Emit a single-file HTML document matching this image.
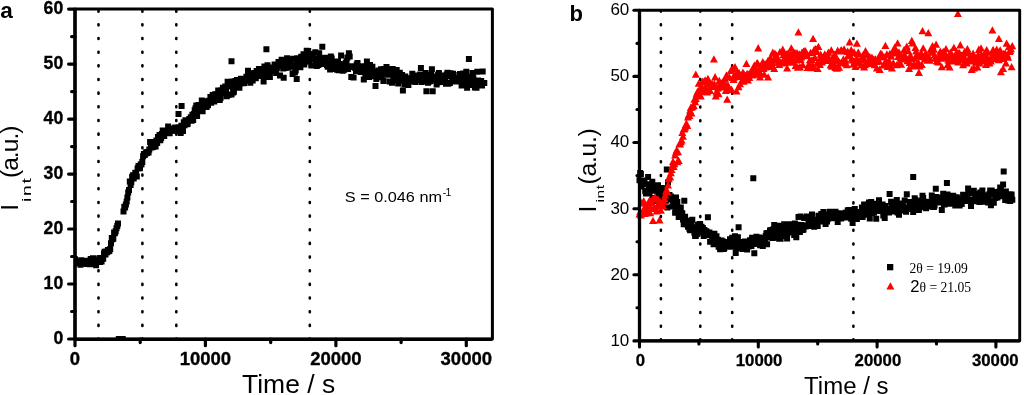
<!DOCTYPE html><html><head><meta charset="utf-8"><style>html,body{margin:0;padding:0;background:#fff}svg{display:block;will-change:transform}text{font-family:"Liberation Sans",sans-serif;fill:#000}.b{font-weight:bold}.s{font-family:"Liberation Serif",serif}</style></head><body>
<svg width="1024" height="395" viewBox="0 0 1024 395">
<rect width="1024" height="395" fill="#fff"/>
<line x1="98.5" y1="10.7" x2="98.5" y2="339.0" stroke="#000" stroke-width="2.6" stroke-linecap="round" stroke-dasharray="1 12.66"/>
<line x1="142.4" y1="10.7" x2="142.4" y2="339.0" stroke="#000" stroke-width="2.6" stroke-linecap="round" stroke-dasharray="1 12.66"/>
<line x1="176.3" y1="10.7" x2="176.3" y2="339.0" stroke="#000" stroke-width="2.6" stroke-linecap="round" stroke-dasharray="1 12.66"/>
<line x1="309.8" y1="10.7" x2="309.8" y2="339.0" stroke="#000" stroke-width="2.6" stroke-linecap="round" stroke-dasharray="1 12.66"/>
<clipPath id="ca"><rect x="75.0" y="9.1" width="417.4" height="329.9"/></clipPath>
<path clip-path="url(#ca)" d="M72.0 256.2h6v6h-6zM72.8 259.8h6v6h-6zM73.6 258.9h6v6h-6zM74.3 258.3h6v6h-6zM75.1 260.2h6v6h-6zM75.9 258.9h6v6h-6zM76.7 258.9h6v6h-6zM77.5 261.8h6v6h-6zM78.3 257.2h6v6h-6zM79.0 257.9h6v6h-6zM79.8 259.9h6v6h-6zM80.6 259.1h6v6h-6zM81.4 258.0h6v6h-6zM82.2 259.2h6v6h-6zM83.0 259.2h6v6h-6zM83.7 261.1h6v6h-6zM84.5 257.8h6v6h-6zM85.3 258.5h6v6h-6zM86.1 258.2h6v6h-6zM86.9 261.2h6v6h-6zM87.7 255.9h6v6h-6zM88.4 258.4h6v6h-6zM89.2 259.2h6v6h-6zM90.0 255.2h6v6h-6zM90.8 258.6h6v6h-6zM91.6 260.9h6v6h-6zM92.3 259.2h6v6h-6zM93.1 262.3h6v6h-6zM93.9 256.7h6v6h-6zM94.7 258.8h6v6h-6zM95.5 258.7h6v6h-6zM96.3 255.2h6v6h-6zM97.0 259.1h6v6h-6zM97.8 254.9h6v6h-6zM98.6 258.6h6v6h-6zM99.4 255.7h6v6h-6zM100.2 255.7h6v6h-6zM101.0 250.3h6v6h-6zM101.7 248.8h6v6h-6zM102.5 251.4h6v6h-6zM103.3 248.5h6v6h-6zM104.1 249.2h6v6h-6zM104.9 247.0h6v6h-6zM105.7 248.2h6v6h-6zM106.4 247.8h6v6h-6zM107.2 245.9h6v6h-6zM108.0 240.3h6v6h-6zM108.8 235.1h6v6h-6zM109.6 236.3h6v6h-6zM110.3 235.6h6v6h-6zM111.1 229.5h6v6h-6zM111.9 230.2h6v6h-6zM112.7 228.3h6v6h-6zM113.5 225.2h6v6h-6zM114.3 223.0h6v6h-6zM115.0 220.5h6v6h-6zM115.8 336.0h6v6h-6zM116.6 336.0h6v6h-6zM117.4 336.0h6v6h-6zM118.2 336.0h6v6h-6zM119.0 336.0h6v6h-6zM119.7 336.0h6v6h-6zM120.5 208.4h6v6h-6zM121.3 203.8h6v6h-6zM122.1 204.5h6v6h-6zM122.9 201.6h6v6h-6zM123.7 198.4h6v6h-6zM124.4 194.4h6v6h-6zM125.2 189.4h6v6h-6zM126.0 187.1h6v6h-6zM126.8 178.6h6v6h-6zM127.6 182.0h6v6h-6zM128.3 179.3h6v6h-6zM129.1 174.1h6v6h-6zM129.9 172.3h6v6h-6zM130.7 175.5h6v6h-6zM131.5 172.4h6v6h-6zM132.3 169.7h6v6h-6zM133.0 170.7h6v6h-6zM133.8 173.6h6v6h-6zM134.6 165.4h6v6h-6zM135.4 163.2h6v6h-6zM136.2 163.0h6v6h-6zM137.0 165.2h6v6h-6zM137.7 161.6h6v6h-6zM138.5 161.3h6v6h-6zM139.3 159.0h6v6h-6zM140.1 153.2h6v6h-6zM140.9 151.1h6v6h-6zM141.7 152.0h6v6h-6zM142.4 150.8h6v6h-6zM143.2 149.3h6v6h-6zM144.0 150.0h6v6h-6zM144.8 149.0h6v6h-6zM145.6 149.4h6v6h-6zM146.3 146.6h6v6h-6zM147.1 139.0h6v6h-6zM147.9 141.9h6v6h-6zM148.7 144.4h6v6h-6zM149.5 143.9h6v6h-6zM150.3 144.1h6v6h-6zM151.0 139.8h6v6h-6zM151.8 139.0h6v6h-6zM152.6 143.5h6v6h-6zM153.4 137.6h6v6h-6zM154.2 139.9h6v6h-6zM155.0 133.9h6v6h-6zM155.7 136.8h6v6h-6zM156.5 131.9h6v6h-6zM157.3 137.3h6v6h-6zM158.1 135.1h6v6h-6zM158.9 131.1h6v6h-6zM159.7 127.4h6v6h-6zM160.4 128.4h6v6h-6zM161.2 133.1h6v6h-6zM162.0 128.9h6v6h-6zM162.8 129.0h6v6h-6zM163.6 130.0h6v6h-6zM164.3 130.3h6v6h-6zM165.1 123.4h6v6h-6zM165.9 129.1h6v6h-6zM166.7 130.3h6v6h-6zM167.5 126.1h6v6h-6zM168.3 127.4h6v6h-6zM169.0 127.8h6v6h-6zM169.8 125.4h6v6h-6zM170.6 126.0h6v6h-6zM171.4 126.3h6v6h-6zM172.2 124.5h6v6h-6zM173.0 126.2h6v6h-6zM173.7 128.1h6v6h-6zM174.5 126.9h6v6h-6zM175.3 126.8h6v6h-6zM176.1 124.3h6v6h-6zM176.9 128.0h6v6h-6zM177.7 130.0h6v6h-6zM178.4 122.7h6v6h-6zM179.2 126.7h6v6h-6zM180.0 128.0h6v6h-6zM180.8 119.3h6v6h-6zM181.6 122.2h6v6h-6zM182.4 117.2h6v6h-6zM183.1 119.9h6v6h-6zM183.9 121.2h6v6h-6zM184.7 120.8h6v6h-6zM185.5 117.5h6v6h-6zM186.3 115.9h6v6h-6zM187.0 117.0h6v6h-6zM187.8 114.3h6v6h-6zM188.6 117.8h6v6h-6zM189.4 111.7h6v6h-6zM190.2 117.1h6v6h-6zM191.0 111.0h6v6h-6zM191.7 107.2h6v6h-6zM192.5 105.2h6v6h-6zM193.3 102.4h6v6h-6zM194.1 112.9h6v6h-6zM194.9 104.3h6v6h-6zM195.7 102.1h6v6h-6zM196.4 102.2h6v6h-6zM197.2 108.2h6v6h-6zM198.0 103.0h6v6h-6zM198.8 97.5h6v6h-6zM199.6 108.3h6v6h-6zM200.4 101.0h6v6h-6zM201.1 98.3h6v6h-6zM201.9 103.9h6v6h-6zM202.7 98.9h6v6h-6zM203.5 104.0h6v6h-6zM204.3 102.5h6v6h-6zM205.0 101.9h6v6h-6zM205.8 97.8h6v6h-6zM206.6 98.1h6v6h-6zM207.4 94.0h6v6h-6zM208.2 99.8h6v6h-6zM209.0 96.4h6v6h-6zM209.7 92.1h6v6h-6zM210.5 92.8h6v6h-6zM211.3 98.6h6v6h-6zM212.1 91.2h6v6h-6zM212.9 94.6h6v6h-6zM213.7 91.2h6v6h-6zM214.4 91.0h6v6h-6zM215.2 87.4h6v6h-6zM216.0 90.7h6v6h-6zM216.8 96.9h6v6h-6zM217.6 94.8h6v6h-6zM218.4 87.2h6v6h-6zM219.1 90.1h6v6h-6zM219.9 84.8h6v6h-6zM220.7 87.3h6v6h-6zM221.5 90.3h6v6h-6zM222.3 83.6h6v6h-6zM223.0 89.5h6v6h-6zM223.8 93.3h6v6h-6zM224.6 78.8h6v6h-6zM225.4 91.9h6v6h-6zM226.2 82.8h6v6h-6zM227.0 81.3h6v6h-6zM227.7 83.6h6v6h-6zM228.5 91.5h6v6h-6zM229.3 78.5h6v6h-6zM230.1 89.6h6v6h-6zM230.9 88.7h6v6h-6zM231.7 83.7h6v6h-6zM232.4 77.9h6v6h-6zM233.2 79.7h6v6h-6zM234.0 76.9h6v6h-6zM234.8 82.3h6v6h-6zM235.6 80.6h6v6h-6zM236.4 84.7h6v6h-6zM237.1 80.4h6v6h-6zM237.9 75.8h6v6h-6zM238.7 79.7h6v6h-6zM239.5 75.7h6v6h-6zM240.3 80.3h6v6h-6zM241.0 80.1h6v6h-6zM241.8 76.9h6v6h-6zM242.6 77.7h6v6h-6zM243.4 73.7h6v6h-6zM244.2 75.3h6v6h-6zM245.0 67.7h6v6h-6zM245.7 76.6h6v6h-6zM246.5 76.3h6v6h-6zM247.3 79.8h6v6h-6zM248.1 74.5h6v6h-6zM248.9 71.1h6v6h-6zM249.7 77.5h6v6h-6zM250.4 73.9h6v6h-6zM251.2 70.0h6v6h-6zM252.0 73.7h6v6h-6zM252.8 75.2h6v6h-6zM253.6 67.9h6v6h-6zM254.4 71.7h6v6h-6zM255.1 70.0h6v6h-6zM255.9 66.1h6v6h-6zM256.7 65.9h6v6h-6zM257.5 72.6h6v6h-6zM258.3 73.1h6v6h-6zM259.0 69.0h6v6h-6zM259.8 70.7h6v6h-6zM260.6 78.6h6v6h-6zM261.4 63.5h6v6h-6zM262.2 69.0h6v6h-6zM263.0 65.4h6v6h-6zM263.7 74.0h6v6h-6zM264.5 62.3h6v6h-6zM265.3 70.8h6v6h-6zM266.1 68.3h6v6h-6zM266.9 74.1h6v6h-6zM267.7 68.1h6v6h-6zM268.4 68.1h6v6h-6zM269.2 67.6h6v6h-6zM270.0 64.4h6v6h-6zM270.8 66.0h6v6h-6zM271.6 61.4h6v6h-6zM272.4 67.9h6v6h-6zM273.1 70.1h6v6h-6zM273.9 65.3h6v6h-6zM274.7 62.0h6v6h-6zM275.5 58.9h6v6h-6zM276.3 60.6h6v6h-6zM277.0 72.4h6v6h-6zM277.8 62.1h6v6h-6zM278.6 56.8h6v6h-6zM279.4 63.1h6v6h-6zM280.2 65.5h6v6h-6zM281.0 61.4h6v6h-6zM281.7 65.0h6v6h-6zM282.5 59.4h6v6h-6zM283.3 62.2h6v6h-6zM284.1 55.3h6v6h-6zM284.9 59.3h6v6h-6zM285.7 64.7h6v6h-6zM286.4 58.2h6v6h-6zM287.2 56.4h6v6h-6zM288.0 63.2h6v6h-6zM288.8 62.3h6v6h-6zM289.6 70.9h6v6h-6zM290.4 55.7h6v6h-6zM291.1 62.5h6v6h-6zM291.9 69.4h6v6h-6zM292.7 67.6h6v6h-6zM293.5 60.1h6v6h-6zM294.3 55.3h6v6h-6zM295.0 59.1h6v6h-6zM295.8 56.2h6v6h-6zM296.6 63.4h6v6h-6zM297.4 64.3h6v6h-6zM298.2 53.7h6v6h-6zM299.0 55.3h6v6h-6zM299.7 57.5h6v6h-6zM300.5 51.2h6v6h-6zM301.3 61.4h6v6h-6zM302.1 58.7h6v6h-6zM302.9 51.8h6v6h-6zM303.7 47.8h6v6h-6zM304.4 56.1h6v6h-6zM305.2 48.1h6v6h-6zM306.0 58.5h6v6h-6zM306.8 54.0h6v6h-6zM307.6 56.1h6v6h-6zM308.4 62.5h6v6h-6zM309.1 53.9h6v6h-6zM309.9 50.9h6v6h-6zM310.7 56.2h6v6h-6zM311.5 55.9h6v6h-6zM312.3 49.3h6v6h-6zM313.0 61.8h6v6h-6zM313.8 63.1h6v6h-6zM314.6 59.3h6v6h-6zM315.4 62.0h6v6h-6zM316.2 50.3h6v6h-6zM317.0 55.3h6v6h-6zM317.7 60.9h6v6h-6zM318.5 59.9h6v6h-6zM319.3 43.8h6v6h-6zM320.1 60.2h6v6h-6zM320.9 61.0h6v6h-6zM321.7 56.2h6v6h-6zM322.4 54.8h6v6h-6zM323.2 56.9h6v6h-6zM324.0 62.3h6v6h-6zM324.8 63.7h6v6h-6zM325.6 55.6h6v6h-6zM326.4 58.8h6v6h-6zM327.1 66.4h6v6h-6zM327.9 53.4h6v6h-6zM328.7 55.4h6v6h-6zM329.5 60.3h6v6h-6zM330.3 60.6h6v6h-6zM331.0 58.4h6v6h-6zM331.8 62.9h6v6h-6zM332.6 66.1h6v6h-6zM333.4 58.5h6v6h-6zM334.2 66.8h6v6h-6zM335.0 58.4h6v6h-6zM335.7 67.2h6v6h-6zM336.5 61.0h6v6h-6zM337.3 61.4h6v6h-6zM338.1 52.6h6v6h-6zM338.9 66.0h6v6h-6zM339.7 67.8h6v6h-6zM340.4 64.4h6v6h-6zM341.2 66.8h6v6h-6zM342.0 64.5h6v6h-6zM342.8 60.0h6v6h-6zM343.6 58.5h6v6h-6zM344.4 54.5h6v6h-6zM345.1 65.9h6v6h-6zM345.9 50.3h6v6h-6zM346.7 53.6h6v6h-6zM347.5 64.0h6v6h-6zM348.3 73.9h6v6h-6zM349.0 63.7h6v6h-6zM349.8 63.2h6v6h-6zM350.6 74.5h6v6h-6zM351.4 63.5h6v6h-6zM352.2 65.0h6v6h-6zM353.0 67.9h6v6h-6zM353.7 61.5h6v6h-6zM354.5 59.9h6v6h-6zM355.3 67.1h6v6h-6zM356.1 63.9h6v6h-6zM356.9 68.2h6v6h-6zM357.7 69.0h6v6h-6zM358.4 65.1h6v6h-6zM359.2 63.2h6v6h-6zM360.0 68.5h6v6h-6zM360.8 76.4h6v6h-6zM361.6 63.5h6v6h-6zM362.4 73.8h6v6h-6zM363.1 66.0h6v6h-6zM363.9 58.4h6v6h-6zM364.7 67.0h6v6h-6zM365.5 72.7h6v6h-6zM366.3 74.1h6v6h-6zM367.0 62.0h6v6h-6zM367.8 67.7h6v6h-6zM368.6 65.3h6v6h-6zM369.4 63.7h6v6h-6zM370.2 68.4h6v6h-6zM371.0 69.8h6v6h-6zM371.7 73.0h6v6h-6zM372.5 83.1h6v6h-6zM373.3 76.0h6v6h-6zM374.1 69.4h6v6h-6zM374.9 70.1h6v6h-6zM375.7 67.5h6v6h-6zM376.4 70.2h6v6h-6zM377.2 69.0h6v6h-6zM378.0 66.3h6v6h-6zM378.8 74.2h6v6h-6zM379.6 71.6h6v6h-6zM380.4 77.9h6v6h-6zM381.1 66.0h6v6h-6zM381.9 70.6h6v6h-6zM382.7 68.6h6v6h-6zM383.5 63.9h6v6h-6zM384.3 66.2h6v6h-6zM385.1 71.7h6v6h-6zM385.8 67.9h6v6h-6zM386.6 78.4h6v6h-6zM387.4 69.8h6v6h-6zM388.2 71.4h6v6h-6zM389.0 79.8h6v6h-6zM389.7 66.1h6v6h-6zM390.5 75.8h6v6h-6zM391.3 69.5h6v6h-6zM392.1 74.8h6v6h-6zM392.9 68.4h6v6h-6zM393.7 67.0h6v6h-6zM394.4 77.2h6v6h-6zM395.2 80.6h6v6h-6zM396.0 74.3h6v6h-6zM396.8 69.8h6v6h-6zM397.6 75.7h6v6h-6zM398.4 77.0h6v6h-6zM399.1 72.0h6v6h-6zM399.9 87.4h6v6h-6zM400.7 77.7h6v6h-6zM401.5 81.2h6v6h-6zM402.3 73.6h6v6h-6zM403.1 78.5h6v6h-6zM403.8 80.3h6v6h-6zM404.6 76.8h6v6h-6zM405.4 82.0h6v6h-6zM406.2 75.2h6v6h-6zM407.0 78.3h6v6h-6zM407.7 76.9h6v6h-6zM408.5 78.5h6v6h-6zM409.3 70.8h6v6h-6zM410.1 75.6h6v6h-6zM410.9 72.7h6v6h-6zM411.7 72.9h6v6h-6zM412.4 78.9h6v6h-6zM413.2 72.4h6v6h-6zM414.0 73.5h6v6h-6zM414.8 73.6h6v6h-6zM415.6 77.0h6v6h-6zM416.4 77.1h6v6h-6zM417.1 71.4h6v6h-6zM417.9 64.9h6v6h-6zM418.7 79.0h6v6h-6zM419.5 72.6h6v6h-6zM420.3 76.8h6v6h-6zM421.1 71.4h6v6h-6zM421.8 73.1h6v6h-6zM422.6 70.1h6v6h-6zM423.4 88.2h6v6h-6zM424.2 77.9h6v6h-6zM425.0 79.7h6v6h-6zM425.7 75.6h6v6h-6zM426.5 78.5h6v6h-6zM427.3 78.1h6v6h-6zM428.1 71.9h6v6h-6zM428.9 66.2h6v6h-6zM429.7 88.3h6v6h-6zM430.4 76.6h6v6h-6zM431.2 73.6h6v6h-6zM432.0 75.1h6v6h-6zM432.8 76.7h6v6h-6zM433.6 81.4h6v6h-6zM434.4 79.5h6v6h-6zM435.1 71.7h6v6h-6zM435.9 70.1h6v6h-6zM436.7 74.7h6v6h-6zM437.5 79.0h6v6h-6zM438.3 74.7h6v6h-6zM439.1 76.2h6v6h-6zM439.8 72.6h6v6h-6zM440.6 74.6h6v6h-6zM441.4 78.0h6v6h-6zM442.2 74.2h6v6h-6zM443.0 80.7h6v6h-6zM443.7 71.4h6v6h-6zM444.5 69.7h6v6h-6zM445.3 80.8h6v6h-6zM446.1 73.3h6v6h-6zM446.9 79.9h6v6h-6zM447.7 70.3h6v6h-6zM448.4 71.1h6v6h-6zM449.2 76.5h6v6h-6zM450.0 70.8h6v6h-6zM450.8 77.5h6v6h-6zM451.6 78.5h6v6h-6zM452.4 78.2h6v6h-6zM453.1 76.2h6v6h-6zM453.9 77.1h6v6h-6zM454.7 74.9h6v6h-6zM455.5 78.5h6v6h-6zM456.3 72.1h6v6h-6zM457.1 70.9h6v6h-6zM457.8 78.0h6v6h-6zM458.6 82.4h6v6h-6zM459.4 72.4h6v6h-6zM460.2 70.5h6v6h-6zM461.0 76.6h6v6h-6zM461.7 81.8h6v6h-6zM462.5 74.6h6v6h-6zM463.3 68.8h6v6h-6zM464.1 84.7h6v6h-6zM464.9 73.7h6v6h-6zM465.7 77.4h6v6h-6zM466.4 80.0h6v6h-6zM467.2 73.7h6v6h-6zM468.0 82.1h6v6h-6zM468.8 74.7h6v6h-6zM469.6 70.0h6v6h-6zM470.4 75.3h6v6h-6zM471.1 80.3h6v6h-6zM471.9 84.5h6v6h-6zM472.7 82.2h6v6h-6zM473.5 84.8h6v6h-6zM474.3 68.8h6v6h-6zM475.1 77.5h6v6h-6zM475.8 81.2h6v6h-6zM476.6 82.4h6v6h-6zM477.4 81.4h6v6h-6zM478.2 78.0h6v6h-6zM479.0 82.4h6v6h-6zM479.7 68.6h6v6h-6zM480.5 80.0h6v6h-6zM481.3 80.1h6v6h-6zM228.5 58.3h6v6h-6zM263.4 46.2h6v6h-6zM465.9 56.1h6v6h-6zM178.6 102.9h6v6h-6zM175.5 111.1h6v6h-6zM293.7 75.9h6v6h-6zM280.7 74.8h6v6h-6z" fill="#000"/>
<rect x="75.0" y="9.1" width="417.4" height="329.9" fill="none" stroke="#000" stroke-width="3" stroke-linejoin="round"/>
<path d="M75.0 9.1V339.3H492.4" fill="none" stroke="#000" stroke-width="3.3" stroke-linejoin="round"/>
<line x1="68.6" x2="75.0" y1="339.0" y2="339.0" stroke="#000" stroke-width="3.2" stroke-linecap="round"/>
<text class="b" x="63.2" y="344.0" font-size="17.6" text-anchor="end" stroke="#000" stroke-width="0.35">0</text>
<line x1="68.6" x2="75.0" y1="284.0" y2="284.0" stroke="#000" stroke-width="3.2" stroke-linecap="round"/>
<text class="b" x="63.2" y="289.0" font-size="17.6" text-anchor="end" stroke="#000" stroke-width="0.35">10</text>
<line x1="68.6" x2="75.0" y1="229.0" y2="229.0" stroke="#000" stroke-width="3.2" stroke-linecap="round"/>
<text class="b" x="63.2" y="234.0" font-size="17.6" text-anchor="end" stroke="#000" stroke-width="0.35">20</text>
<line x1="68.6" x2="75.0" y1="174.1" y2="174.1" stroke="#000" stroke-width="3.2" stroke-linecap="round"/>
<text class="b" x="63.2" y="179.1" font-size="17.6" text-anchor="end" stroke="#000" stroke-width="0.35">30</text>
<line x1="68.6" x2="75.0" y1="119.1" y2="119.1" stroke="#000" stroke-width="3.2" stroke-linecap="round"/>
<text class="b" x="63.2" y="124.1" font-size="17.6" text-anchor="end" stroke="#000" stroke-width="0.35">40</text>
<line x1="68.6" x2="75.0" y1="64.1" y2="64.1" stroke="#000" stroke-width="3.2" stroke-linecap="round"/>
<text class="b" x="63.2" y="69.1" font-size="17.6" text-anchor="end" stroke="#000" stroke-width="0.35">50</text>
<line x1="68.6" x2="75.0" y1="9.1" y2="9.1" stroke="#000" stroke-width="3.2" stroke-linecap="round"/>
<text class="b" x="63.2" y="14.1" font-size="17.6" text-anchor="end" stroke="#000" stroke-width="0.35">60</text>
<line x1="71.6" x2="75.0" y1="311.5" y2="311.5" stroke="#000" stroke-width="3.2" stroke-linecap="round"/>
<line x1="71.6" x2="75.0" y1="256.5" y2="256.5" stroke="#000" stroke-width="3.2" stroke-linecap="round"/>
<line x1="71.6" x2="75.0" y1="201.5" y2="201.5" stroke="#000" stroke-width="3.2" stroke-linecap="round"/>
<line x1="71.6" x2="75.0" y1="146.6" y2="146.6" stroke="#000" stroke-width="3.2" stroke-linecap="round"/>
<line x1="71.6" x2="75.0" y1="91.6" y2="91.6" stroke="#000" stroke-width="3.2" stroke-linecap="round"/>
<line x1="71.6" x2="75.0" y1="36.6" y2="36.6" stroke="#000" stroke-width="3.2" stroke-linecap="round"/>
<line x1="75.0" x2="75.0" y1="339.0" y2="345.7" stroke="#000" stroke-width="3.2" stroke-linecap="round"/>
<text class="b" x="75.0" y="364.9" font-size="18.5" text-anchor="middle" stroke="#000" stroke-width="0.35">0</text>
<line x1="205.4" x2="205.4" y1="339.0" y2="345.7" stroke="#000" stroke-width="3.2" stroke-linecap="round"/>
<text class="b" x="205.4" y="364.9" font-size="18.5" text-anchor="middle" stroke="#000" stroke-width="0.35">10000</text>
<line x1="335.9" x2="335.9" y1="339.0" y2="345.7" stroke="#000" stroke-width="3.2" stroke-linecap="round"/>
<text class="b" x="335.9" y="364.9" font-size="18.5" text-anchor="middle" stroke="#000" stroke-width="0.35">20000</text>
<line x1="466.3" x2="466.3" y1="339.0" y2="345.7" stroke="#000" stroke-width="3.2" stroke-linecap="round"/>
<text class="b" x="466.3" y="364.9" font-size="18.5" text-anchor="middle" stroke="#000" stroke-width="0.35">30000</text>
<line x1="140.2" x2="140.2" y1="339.0" y2="342.6" stroke="#000" stroke-width="3.2" stroke-linecap="round"/>
<line x1="270.7" x2="270.7" y1="339.0" y2="342.6" stroke="#000" stroke-width="3.2" stroke-linecap="round"/>
<line x1="401.1" x2="401.1" y1="339.0" y2="342.6" stroke="#000" stroke-width="3.2" stroke-linecap="round"/>
<text transform="translate(288.6,393.3) scale(1.05,1)" font-size="25.2" text-anchor="middle">Time / s</text>
<text transform="translate(18.2,210.7) rotate(-90)" font-size="24.6">I</text>
<text transform="translate(30.6,201.9) rotate(-90) scale(1.45,1)" font-size="13.2" letter-spacing="1.2">int</text>
<text transform="translate(18.2,178) rotate(-90)" font-size="24.6" letter-spacing="-1">(a.u.)</text>
<text transform="translate(344.8,202) scale(1.085,1)" font-size="15">S = 0.046 nm</text>
<text x="442.8" y="196" font-size="10.5" letter-spacing="-0.8">-1</text>
<text class="b" x="0.2" y="18.4" font-size="22.5">a</text>
<line x1="660.9" y1="10.6" x2="660.9" y2="340.9" stroke="#000" stroke-width="2.6" stroke-linecap="round" stroke-dasharray="1 12.7"/>
<line x1="700.3" y1="10.6" x2="700.3" y2="340.9" stroke="#000" stroke-width="2.6" stroke-linecap="round" stroke-dasharray="1 12.7"/>
<line x1="732.2" y1="10.6" x2="732.2" y2="340.9" stroke="#000" stroke-width="2.6" stroke-linecap="round" stroke-dasharray="1 12.7"/>
<line x1="853.4" y1="10.6" x2="853.4" y2="340.9" stroke="#000" stroke-width="2.6" stroke-linecap="round" stroke-dasharray="1 12.7"/>
<path d="M636.5 177.2h6v6h-6zM637.2 169.9h6v6h-6zM637.9 171.1h6v6h-6zM638.6 183.4h6v6h-6zM639.4 178.8h6v6h-6zM640.1 179.8h6v6h-6zM640.8 177.6h6v6h-6zM641.5 179.8h6v6h-6zM642.2 188.0h6v6h-6zM642.9 190.4h6v6h-6zM643.6 181.3h6v6h-6zM644.3 190.6h6v6h-6zM645.1 174.1h6v6h-6zM645.8 183.1h6v6h-6zM646.5 190.5h6v6h-6zM647.2 186.2h6v6h-6zM647.9 187.7h6v6h-6zM648.6 185.5h6v6h-6zM649.3 178.7h6v6h-6zM650.0 194.9h6v6h-6zM650.8 198.0h6v6h-6zM651.5 183.7h6v6h-6zM652.2 187.4h6v6h-6zM652.9 185.5h6v6h-6zM653.6 184.0h6v6h-6zM654.3 188.4h6v6h-6zM655.0 182.3h6v6h-6zM655.7 193.8h6v6h-6zM656.5 187.8h6v6h-6zM657.2 194.0h6v6h-6zM657.9 196.3h6v6h-6zM658.6 185.1h6v6h-6zM659.3 185.7h6v6h-6zM660.0 202.7h6v6h-6zM660.7 198.1h6v6h-6zM661.5 189.7h6v6h-6zM662.2 185.4h6v6h-6zM662.9 197.8h6v6h-6zM663.6 195.5h6v6h-6zM664.3 204.5h6v6h-6zM665.0 179.4h6v6h-6zM665.7 193.8h6v6h-6zM666.4 191.9h6v6h-6zM667.2 194.3h6v6h-6zM667.9 193.4h6v6h-6zM668.6 196.4h6v6h-6zM669.3 203.5h6v6h-6zM670.0 197.3h6v6h-6zM670.7 202.6h6v6h-6zM671.4 195.4h6v6h-6zM672.1 209.7h6v6h-6zM672.9 209.3h6v6h-6zM673.6 202.3h6v6h-6zM674.3 199.1h6v6h-6zM675.0 207.4h6v6h-6zM675.7 214.0h6v6h-6zM676.4 211.0h6v6h-6zM677.1 213.1h6v6h-6zM677.8 204.4h6v6h-6zM678.6 210.0h6v6h-6zM679.3 210.6h6v6h-6zM680.0 216.4h6v6h-6zM680.7 221.3h6v6h-6zM681.4 215.0h6v6h-6zM682.1 213.7h6v6h-6zM682.8 218.5h6v6h-6zM683.5 221.5h6v6h-6zM684.3 217.7h6v6h-6zM685.0 223.8h6v6h-6zM685.7 219.6h6v6h-6zM686.4 225.8h6v6h-6zM687.1 227.2h6v6h-6zM687.8 221.4h6v6h-6zM688.5 222.6h6v6h-6zM689.3 216.7h6v6h-6zM690.0 225.7h6v6h-6zM690.7 224.8h6v6h-6zM691.4 229.7h6v6h-6zM692.1 232.9h6v6h-6zM692.8 232.9h6v6h-6zM693.5 224.3h6v6h-6zM694.2 231.1h6v6h-6zM695.0 222.3h6v6h-6zM695.7 221.4h6v6h-6zM696.4 228.5h6v6h-6zM697.1 221.1h6v6h-6zM697.8 227.1h6v6h-6zM698.5 223.8h6v6h-6zM699.2 229.5h6v6h-6zM699.9 225.1h6v6h-6zM700.7 233.0h6v6h-6zM701.4 227.1h6v6h-6zM702.1 231.7h6v6h-6zM702.8 230.7h6v6h-6zM703.5 228.2h6v6h-6zM704.2 230.6h6v6h-6zM704.9 232.1h6v6h-6zM705.6 229.4h6v6h-6zM706.4 229.6h6v6h-6zM707.1 238.8h6v6h-6zM707.8 231.6h6v6h-6zM708.5 231.7h6v6h-6zM709.2 237.9h6v6h-6zM709.9 233.9h6v6h-6zM710.6 241.2h6v6h-6zM711.4 230.8h6v6h-6zM712.1 237.9h6v6h-6zM712.8 237.8h6v6h-6zM713.5 233.3h6v6h-6zM714.2 239.1h6v6h-6zM714.9 236.7h6v6h-6zM715.6 243.8h6v6h-6zM716.3 242.4h6v6h-6zM717.1 246.2h6v6h-6zM717.8 242.0h6v6h-6zM718.5 237.6h6v6h-6zM719.2 241.1h6v6h-6zM719.9 238.4h6v6h-6zM720.6 246.0h6v6h-6zM721.3 245.3h6v6h-6zM722.0 243.6h6v6h-6zM722.8 239.5h6v6h-6zM723.5 240.3h6v6h-6zM724.2 241.7h6v6h-6zM724.9 239.1h6v6h-6zM725.6 242.1h6v6h-6zM726.3 241.5h6v6h-6zM727.0 236.2h6v6h-6zM727.7 243.7h6v6h-6zM728.5 240.5h6v6h-6zM729.2 234.8h6v6h-6zM729.9 240.8h6v6h-6zM730.6 238.3h6v6h-6zM731.3 243.4h6v6h-6zM732.0 233.2h6v6h-6zM732.7 249.9h6v6h-6zM733.5 245.4h6v6h-6zM734.2 245.0h6v6h-6zM734.9 234.3h6v6h-6zM735.6 239.3h6v6h-6zM736.3 241.6h6v6h-6zM737.0 245.6h6v6h-6zM737.7 238.9h6v6h-6zM738.4 239.8h6v6h-6zM739.2 242.9h6v6h-6zM739.9 246.0h6v6h-6zM740.6 244.4h6v6h-6zM741.3 239.0h6v6h-6zM742.0 238.5h6v6h-6zM742.7 239.4h6v6h-6zM743.4 240.2h6v6h-6zM744.1 246.5h6v6h-6zM744.9 239.2h6v6h-6zM745.6 243.4h6v6h-6zM746.3 239.0h6v6h-6zM747.0 237.2h6v6h-6zM747.7 241.6h6v6h-6zM748.4 242.9h6v6h-6zM749.1 234.8h6v6h-6zM749.8 237.3h6v6h-6zM750.6 241.1h6v6h-6zM751.3 250.3h6v6h-6zM752.0 238.5h6v6h-6zM752.7 235.7h6v6h-6zM753.4 233.7h6v6h-6zM754.1 240.7h6v6h-6zM754.8 240.5h6v6h-6zM755.6 239.6h6v6h-6zM756.3 234.4h6v6h-6zM757.0 242.3h6v6h-6zM757.7 238.0h6v6h-6zM758.4 241.1h6v6h-6zM759.1 236.0h6v6h-6zM759.8 242.9h6v6h-6zM760.5 234.9h6v6h-6zM761.3 237.9h6v6h-6zM762.0 236.5h6v6h-6zM762.7 233.1h6v6h-6zM763.4 230.3h6v6h-6zM764.1 241.2h6v6h-6zM764.8 230.1h6v6h-6zM765.5 231.5h6v6h-6zM766.2 234.5h6v6h-6zM767.0 227.4h6v6h-6zM767.7 231.9h6v6h-6zM768.4 227.1h6v6h-6zM769.1 234.2h6v6h-6zM769.8 234.9h6v6h-6zM770.5 226.2h6v6h-6zM771.2 222.1h6v6h-6zM771.9 227.8h6v6h-6zM772.7 226.5h6v6h-6zM773.4 231.5h6v6h-6zM774.1 234.5h6v6h-6zM774.8 229.8h6v6h-6zM775.5 222.7h6v6h-6zM776.2 235.8h6v6h-6zM776.9 230.2h6v6h-6zM777.6 235.7h6v6h-6zM778.4 227.5h6v6h-6zM779.1 223.8h6v6h-6zM779.8 233.1h6v6h-6zM780.5 229.2h6v6h-6zM781.2 221.2h6v6h-6zM781.9 227.4h6v6h-6zM782.6 232.4h6v6h-6zM783.4 232.5h6v6h-6zM784.1 235.5h6v6h-6zM784.8 222.8h6v6h-6zM785.5 229.4h6v6h-6zM786.2 221.2h6v6h-6zM786.9 221.8h6v6h-6zM787.6 228.5h6v6h-6zM788.3 227.7h6v6h-6zM789.1 221.6h6v6h-6zM789.8 224.3h6v6h-6zM790.5 223.6h6v6h-6zM791.2 232.0h6v6h-6zM791.9 220.4h6v6h-6zM792.6 228.2h6v6h-6zM793.3 234.2h6v6h-6zM794.0 226.6h6v6h-6zM794.8 221.8h6v6h-6zM795.5 214.1h6v6h-6zM796.2 225.0h6v6h-6zM796.9 229.1h6v6h-6zM797.6 213.4h6v6h-6zM798.3 222.0h6v6h-6zM799.0 223.6h6v6h-6zM799.7 227.0h6v6h-6zM800.5 226.4h6v6h-6zM801.2 215.0h6v6h-6zM801.9 222.6h6v6h-6zM802.6 223.5h6v6h-6zM803.3 223.1h6v6h-6zM804.0 213.5h6v6h-6zM804.7 222.9h6v6h-6zM805.5 217.2h6v6h-6zM806.2 218.5h6v6h-6zM806.9 218.4h6v6h-6zM807.6 223.1h6v6h-6zM808.3 216.0h6v6h-6zM809.0 211.4h6v6h-6zM809.7 218.6h6v6h-6zM810.4 222.3h6v6h-6zM811.2 223.7h6v6h-6zM811.9 216.7h6v6h-6zM812.6 218.5h6v6h-6zM813.3 217.5h6v6h-6zM814.0 216.7h6v6h-6zM814.7 223.1h6v6h-6zM815.4 212.7h6v6h-6zM816.1 214.9h6v6h-6zM816.9 216.0h6v6h-6zM817.6 214.4h6v6h-6zM818.3 211.0h6v6h-6zM819.0 214.6h6v6h-6zM819.7 218.4h6v6h-6zM820.4 209.1h6v6h-6zM821.1 216.1h6v6h-6zM821.8 217.4h6v6h-6zM822.6 221.0h6v6h-6zM823.3 213.9h6v6h-6zM824.0 218.5h6v6h-6zM824.7 216.0h6v6h-6zM825.4 211.6h6v6h-6zM826.1 213.4h6v6h-6zM826.8 208.8h6v6h-6zM827.6 211.9h6v6h-6zM828.3 215.0h6v6h-6zM829.0 214.6h6v6h-6zM829.7 215.3h6v6h-6zM830.4 210.0h6v6h-6zM831.1 212.7h6v6h-6zM831.8 214.6h6v6h-6zM832.5 208.8h6v6h-6zM833.3 212.1h6v6h-6zM834.0 214.5h6v6h-6zM834.7 219.1h6v6h-6zM835.4 210.3h6v6h-6zM836.1 211.1h6v6h-6zM836.8 211.8h6v6h-6zM837.5 213.9h6v6h-6zM838.2 215.6h6v6h-6zM839.0 212.8h6v6h-6zM839.7 210.6h6v6h-6zM840.4 212.1h6v6h-6zM841.1 212.1h6v6h-6zM841.8 213.5h6v6h-6zM842.5 209.7h6v6h-6zM843.2 210.1h6v6h-6zM843.9 214.5h6v6h-6zM844.7 207.6h6v6h-6zM845.4 207.3h6v6h-6zM846.1 207.1h6v6h-6zM846.8 211.3h6v6h-6zM847.5 211.5h6v6h-6zM848.2 215.7h6v6h-6zM848.9 207.0h6v6h-6zM849.6 219.9h6v6h-6zM850.4 212.0h6v6h-6zM851.1 211.6h6v6h-6zM851.8 206.1h6v6h-6zM852.5 209.9h6v6h-6zM853.2 214.1h6v6h-6zM853.9 216.1h6v6h-6zM854.6 212.9h6v6h-6zM855.4 209.0h6v6h-6zM856.1 209.2h6v6h-6zM856.8 210.2h6v6h-6zM857.5 212.3h6v6h-6zM858.2 210.1h6v6h-6zM858.9 204.5h6v6h-6zM859.6 213.9h6v6h-6zM860.3 208.7h6v6h-6zM861.1 201.5h6v6h-6zM861.8 206.1h6v6h-6zM862.5 210.6h6v6h-6zM863.2 205.5h6v6h-6zM863.9 211.7h6v6h-6zM864.6 208.2h6v6h-6zM865.3 201.2h6v6h-6zM866.0 199.5h6v6h-6zM866.8 215.6h6v6h-6zM867.5 204.7h6v6h-6zM868.2 199.0h6v6h-6zM868.9 210.1h6v6h-6zM869.6 206.4h6v6h-6zM870.3 200.7h6v6h-6zM871.0 209.6h6v6h-6zM871.7 205.2h6v6h-6zM872.5 207.4h6v6h-6zM873.2 215.7h6v6h-6zM873.9 205.4h6v6h-6zM874.6 207.7h6v6h-6zM875.3 202.6h6v6h-6zM876.0 197.3h6v6h-6zM876.7 203.5h6v6h-6zM877.5 208.1h6v6h-6zM878.2 204.4h6v6h-6zM878.9 205.4h6v6h-6zM879.6 201.6h6v6h-6zM880.3 212.6h6v6h-6zM881.0 211.2h6v6h-6zM881.7 215.1h6v6h-6zM882.4 203.1h6v6h-6zM883.2 205.8h6v6h-6zM883.9 208.5h6v6h-6zM884.6 208.8h6v6h-6zM885.3 208.0h6v6h-6zM886.0 209.5h6v6h-6zM886.7 206.7h6v6h-6zM887.4 207.3h6v6h-6zM888.1 198.8h6v6h-6zM888.9 203.5h6v6h-6zM889.6 208.5h6v6h-6zM890.3 207.4h6v6h-6zM891.0 199.2h6v6h-6zM891.7 202.5h6v6h-6zM892.4 203.1h6v6h-6zM893.1 201.1h6v6h-6zM893.8 197.1h6v6h-6zM894.6 209.6h6v6h-6zM895.3 207.4h6v6h-6zM896.0 211.8h6v6h-6zM896.7 201.6h6v6h-6zM897.4 205.5h6v6h-6zM898.1 206.7h6v6h-6zM898.8 207.0h6v6h-6zM899.6 200.4h6v6h-6zM900.3 204.0h6v6h-6zM901.0 205.7h6v6h-6zM901.7 197.5h6v6h-6zM902.4 207.8h6v6h-6zM903.1 208.7h6v6h-6zM903.8 191.2h6v6h-6zM904.5 204.5h6v6h-6zM905.3 205.2h6v6h-6zM906.0 205.9h6v6h-6zM906.7 203.2h6v6h-6zM907.4 199.0h6v6h-6zM908.1 199.0h6v6h-6zM908.8 199.9h6v6h-6zM909.5 203.5h6v6h-6zM910.2 208.9h6v6h-6zM911.0 200.8h6v6h-6zM911.7 195.2h6v6h-6zM912.4 197.1h6v6h-6zM913.1 202.6h6v6h-6zM913.8 198.2h6v6h-6zM914.5 203.4h6v6h-6zM915.2 201.9h6v6h-6zM915.9 207.1h6v6h-6zM916.7 202.9h6v6h-6zM917.4 200.8h6v6h-6zM918.1 202.1h6v6h-6zM918.8 197.8h6v6h-6zM919.5 192.7h6v6h-6zM920.2 195.1h6v6h-6zM920.9 202.4h6v6h-6zM921.7 204.2h6v6h-6zM922.4 203.8h6v6h-6zM923.1 205.2h6v6h-6zM923.8 200.5h6v6h-6zM924.5 198.7h6v6h-6zM925.2 199.7h6v6h-6zM925.9 199.6h6v6h-6zM926.6 199.7h6v6h-6zM927.4 200.9h6v6h-6zM928.1 203.5h6v6h-6zM928.8 192.4h6v6h-6zM929.5 195.3h6v6h-6zM930.2 204.0h6v6h-6zM930.9 204.0h6v6h-6zM931.6 202.4h6v6h-6zM932.3 199.6h6v6h-6zM933.1 194.0h6v6h-6zM933.8 195.0h6v6h-6zM934.5 194.7h6v6h-6zM935.2 194.5h6v6h-6zM935.9 194.4h6v6h-6zM936.6 195.9h6v6h-6zM937.3 197.1h6v6h-6zM938.0 199.6h6v6h-6zM938.8 206.9h6v6h-6zM939.5 199.5h6v6h-6zM940.2 190.8h6v6h-6zM940.9 201.2h6v6h-6zM941.6 201.5h6v6h-6zM942.3 194.0h6v6h-6zM943.0 198.2h6v6h-6zM943.7 200.6h6v6h-6zM944.5 191.4h6v6h-6zM945.2 195.5h6v6h-6zM945.9 194.8h6v6h-6zM946.6 200.7h6v6h-6zM947.3 195.8h6v6h-6zM948.0 196.3h6v6h-6zM948.7 194.4h6v6h-6zM949.5 192.7h6v6h-6zM950.2 192.7h6v6h-6zM950.9 196.9h6v6h-6zM951.6 194.5h6v6h-6zM952.3 202.6h6v6h-6zM953.0 194.5h6v6h-6zM953.7 194.3h6v6h-6zM954.4 199.0h6v6h-6zM955.2 200.7h6v6h-6zM955.9 197.4h6v6h-6zM956.6 202.5h6v6h-6zM957.3 195.4h6v6h-6zM958.0 195.5h6v6h-6zM958.7 201.1h6v6h-6zM959.4 196.5h6v6h-6zM960.1 191.8h6v6h-6zM960.9 191.8h6v6h-6zM961.6 191.9h6v6h-6zM962.3 197.1h6v6h-6zM963.0 197.8h6v6h-6zM963.7 198.0h6v6h-6zM964.4 193.5h6v6h-6zM965.1 185.5h6v6h-6zM965.8 189.7h6v6h-6zM966.6 188.8h6v6h-6zM967.3 189.8h6v6h-6zM968.0 203.0h6v6h-6zM968.7 196.6h6v6h-6zM969.4 197.5h6v6h-6zM970.1 189.9h6v6h-6zM970.8 187.8h6v6h-6zM971.6 198.3h6v6h-6zM972.3 195.1h6v6h-6zM973.0 192.7h6v6h-6zM973.7 197.3h6v6h-6zM974.4 197.9h6v6h-6zM975.1 198.0h6v6h-6zM975.8 190.9h6v6h-6zM976.5 198.9h6v6h-6zM977.3 189.6h6v6h-6zM978.0 194.2h6v6h-6zM978.7 191.2h6v6h-6zM979.4 187.5h6v6h-6zM980.1 197.4h6v6h-6zM980.8 198.0h6v6h-6zM981.5 192.3h6v6h-6zM982.2 198.8h6v6h-6zM983.0 197.4h6v6h-6zM983.7 194.5h6v6h-6zM984.4 193.2h6v6h-6zM985.1 199.4h6v6h-6zM985.8 195.5h6v6h-6zM986.5 191.1h6v6h-6zM987.2 187.6h6v6h-6zM987.9 202.3h6v6h-6zM988.7 187.6h6v6h-6zM989.4 189.4h6v6h-6zM990.1 198.2h6v6h-6zM990.8 199.8h6v6h-6zM991.5 191.3h6v6h-6zM992.2 194.9h6v6h-6zM992.9 192.4h6v6h-6zM993.7 189.0h6v6h-6zM994.4 194.5h6v6h-6zM995.1 192.0h6v6h-6zM995.8 190.5h6v6h-6zM996.5 188.6h6v6h-6zM997.2 184.6h6v6h-6zM997.9 184.8h6v6h-6zM998.6 191.3h6v6h-6zM999.4 193.3h6v6h-6zM1000.1 181.5h6v6h-6zM1000.8 189.2h6v6h-6zM1001.5 190.1h6v6h-6zM1002.2 196.9h6v6h-6zM1002.9 188.4h6v6h-6zM1003.6 195.3h6v6h-6zM1004.3 193.7h6v6h-6zM1005.1 197.6h6v6h-6zM1005.8 193.9h6v6h-6zM1006.5 191.2h6v6h-6zM1007.2 198.1h6v6h-6zM1007.9 195.3h6v6h-6zM1008.6 191.6h6v6h-6zM1009.3 196.8h6v6h-6zM750.3 175.2h6v6h-6zM704.9 214.3h6v6h-6zM735.6 224.2h6v6h-6zM681.3 197.7h6v6h-6zM673.0 194.4h6v6h-6zM663.8 166.6h6v6h-6zM910.2 173.9h6v6h-6zM1000.7 168.6h6v6h-6zM943.9 179.9h6v6h-6zM932.8 185.8h6v6h-6zM886.6 191.1h6v6h-6z" fill="#000"/>
<path d="M639.5 210.2l4 7.3h-8zM640.2 207.7l4 7.3h-8zM640.9 211.1l4 7.3h-8zM641.6 199.1l4 7.3h-8zM642.4 208.6l4 7.3h-8zM643.1 198.1l4 7.3h-8zM643.8 197.2l4 7.3h-8zM644.5 209.7l4 7.3h-8zM645.2 202.4l4 7.3h-8zM645.9 205.4l4 7.3h-8zM646.6 209.3l4 7.3h-8zM647.3 204.5l4 7.3h-8zM648.1 203.9l4 7.3h-8zM648.8 198.3l4 7.3h-8zM649.5 196.4l4 7.3h-8zM650.2 209.0l4 7.3h-8zM650.9 204.8l4 7.3h-8zM651.6 199.2l4 7.3h-8zM652.3 195.4l4 7.3h-8zM653.0 216.8l4 7.3h-8zM653.8 194.7l4 7.3h-8zM654.5 203.3l4 7.3h-8zM655.2 193.2l4 7.3h-8zM655.9 204.8l4 7.3h-8zM656.6 207.2l4 7.3h-8zM657.3 201.9l4 7.3h-8zM658.0 195.2l4 7.3h-8zM658.7 202.0l4 7.3h-8zM659.5 216.1l4 7.3h-8zM660.2 198.1l4 7.3h-8zM660.9 206.4l4 7.3h-8zM661.6 202.3l4 7.3h-8zM662.3 201.1l4 7.3h-8zM663.0 201.7l4 7.3h-8zM663.7 197.7l4 7.3h-8zM664.5 194.7l4 7.3h-8zM665.2 191.2l4 7.3h-8zM665.9 187.1l4 7.3h-8zM666.6 186.0l4 7.3h-8zM667.3 188.0l4 7.3h-8zM668.0 181.2l4 7.3h-8zM668.7 174.9l4 7.3h-8zM669.4 172.7l4 7.3h-8zM670.2 173.2l4 7.3h-8zM670.9 169.0l4 7.3h-8zM671.6 165.6l4 7.3h-8zM672.3 161.4l4 7.3h-8zM673.0 157.8l4 7.3h-8zM673.7 162.7l4 7.3h-8zM674.4 160.0l4 7.3h-8zM675.1 151.2l4 7.3h-8zM675.9 148.5l4 7.3h-8zM676.6 146.2l4 7.3h-8zM677.3 158.0l4 7.3h-8zM678.0 148.0l4 7.3h-8zM678.7 156.8l4 7.3h-8zM679.4 140.0l4 7.3h-8zM680.1 140.2l4 7.3h-8zM680.8 137.9l4 7.3h-8zM681.6 136.3l4 7.3h-8zM682.3 128.8l4 7.3h-8zM683.0 132.4l4 7.3h-8zM683.7 125.3l4 7.3h-8zM684.4 124.7l4 7.3h-8zM685.1 123.2l4 7.3h-8zM685.8 120.6l4 7.3h-8zM686.5 119.7l4 7.3h-8zM687.3 121.8l4 7.3h-8zM688.0 113.1l4 7.3h-8zM688.7 110.9l4 7.3h-8zM689.4 111.8l4 7.3h-8zM690.1 106.4l4 7.3h-8zM690.8 103.6l4 7.3h-8zM691.5 109.3l4 7.3h-8zM692.3 103.0l4 7.3h-8zM693.0 101.9l4 7.3h-8zM693.7 101.8l4 7.3h-8zM694.4 95.5l4 7.3h-8zM695.1 97.9l4 7.3h-8zM695.8 94.6l4 7.3h-8zM696.5 90.3l4 7.3h-8zM697.2 88.3l4 7.3h-8zM698.0 87.4l4 7.3h-8zM698.7 79.5l4 7.3h-8zM699.4 89.5l4 7.3h-8zM700.1 84.3l4 7.3h-8zM700.8 92.2l4 7.3h-8zM701.5 82.4l4 7.3h-8zM702.2 78.2l4 7.3h-8zM702.9 77.6l4 7.3h-8zM703.7 87.6l4 7.3h-8zM704.4 85.3l4 7.3h-8zM705.1 76.3l4 7.3h-8zM705.8 83.6l4 7.3h-8zM706.5 77.5l4 7.3h-8zM707.2 88.2l4 7.3h-8zM707.9 74.8l4 7.3h-8zM708.6 76.6l4 7.3h-8zM709.4 79.6l4 7.3h-8zM710.1 86.6l4 7.3h-8zM710.8 82.8l4 7.3h-8zM711.5 80.9l4 7.3h-8zM712.2 80.1l4 7.3h-8zM712.9 82.0l4 7.3h-8zM713.6 82.5l4 7.3h-8zM714.4 80.0l4 7.3h-8zM715.1 73.1l4 7.3h-8zM715.8 92.1l4 7.3h-8zM716.5 88.3l4 7.3h-8zM717.2 89.1l4 7.3h-8zM717.9 84.1l4 7.3h-8zM718.6 89.9l4 7.3h-8zM719.3 76.8l4 7.3h-8zM720.1 79.3l4 7.3h-8zM720.8 81.1l4 7.3h-8zM721.5 83.3l4 7.3h-8zM722.2 78.4l4 7.3h-8zM722.9 78.1l4 7.3h-8zM723.6 77.1l4 7.3h-8zM724.3 82.9l4 7.3h-8zM725.0 75.0l4 7.3h-8zM725.8 86.7l4 7.3h-8zM726.5 71.3l4 7.3h-8zM727.2 95.4l4 7.3h-8zM727.9 81.3l4 7.3h-8zM728.6 84.6l4 7.3h-8zM729.3 73.1l4 7.3h-8zM730.0 85.6l4 7.3h-8zM730.7 66.7l4 7.3h-8zM731.5 85.4l4 7.3h-8zM732.2 65.0l4 7.3h-8zM732.9 73.6l4 7.3h-8zM733.6 75.6l4 7.3h-8zM734.3 73.1l4 7.3h-8zM735.0 62.9l4 7.3h-8zM735.7 69.9l4 7.3h-8zM736.5 87.2l4 7.3h-8zM737.2 67.7l4 7.3h-8zM737.9 72.8l4 7.3h-8zM738.6 82.9l4 7.3h-8zM739.3 69.2l4 7.3h-8zM740.0 80.0l4 7.3h-8zM740.7 71.9l4 7.3h-8zM741.4 71.4l4 7.3h-8zM742.2 76.0l4 7.3h-8zM742.9 68.4l4 7.3h-8zM743.6 77.5l4 7.3h-8zM744.3 70.4l4 7.3h-8zM745.0 74.3l4 7.3h-8zM745.7 72.0l4 7.3h-8zM746.4 59.8l4 7.3h-8zM747.1 69.7l4 7.3h-8zM747.9 76.2l4 7.3h-8zM748.6 70.5l4 7.3h-8zM749.3 73.8l4 7.3h-8zM750.0 69.1l4 7.3h-8zM750.7 68.0l4 7.3h-8zM751.4 68.2l4 7.3h-8zM752.1 67.9l4 7.3h-8zM752.8 71.1l4 7.3h-8zM753.6 65.1l4 7.3h-8zM754.3 61.4l4 7.3h-8zM755.0 70.5l4 7.3h-8zM755.7 67.0l4 7.3h-8zM756.4 66.0l4 7.3h-8zM757.1 59.0l4 7.3h-8zM757.8 59.6l4 7.3h-8zM758.6 69.5l4 7.3h-8zM759.3 64.6l4 7.3h-8zM760.0 73.1l4 7.3h-8zM760.7 69.8l4 7.3h-8zM761.4 64.0l4 7.3h-8zM762.1 60.2l4 7.3h-8zM762.8 58.0l4 7.3h-8zM763.5 64.8l4 7.3h-8zM764.3 70.4l4 7.3h-8zM765.0 60.2l4 7.3h-8zM765.7 63.1l4 7.3h-8zM766.4 59.4l4 7.3h-8zM767.1 60.5l4 7.3h-8zM767.8 57.1l4 7.3h-8zM768.5 57.1l4 7.3h-8zM769.2 55.7l4 7.3h-8zM770.0 62.7l4 7.3h-8zM770.7 54.2l4 7.3h-8zM771.4 62.3l4 7.3h-8zM772.1 58.7l4 7.3h-8zM772.8 48.4l4 7.3h-8zM773.5 56.5l4 7.3h-8zM774.2 64.7l4 7.3h-8zM774.9 49.5l4 7.3h-8zM775.7 52.1l4 7.3h-8zM776.4 51.2l4 7.3h-8zM777.1 56.3l4 7.3h-8zM777.8 55.3l4 7.3h-8zM778.5 58.4l4 7.3h-8zM779.2 60.8l4 7.3h-8zM779.9 48.1l4 7.3h-8zM780.6 58.6l4 7.3h-8zM781.4 59.1l4 7.3h-8zM782.1 58.7l4 7.3h-8zM782.8 45.6l4 7.3h-8zM783.5 51.0l4 7.3h-8zM784.2 57.8l4 7.3h-8zM784.9 55.8l4 7.3h-8zM785.6 52.5l4 7.3h-8zM786.4 50.3l4 7.3h-8zM787.1 64.1l4 7.3h-8zM787.8 49.8l4 7.3h-8zM788.5 56.0l4 7.3h-8zM789.2 58.4l4 7.3h-8zM789.9 56.6l4 7.3h-8zM790.6 49.8l4 7.3h-8zM791.3 44.2l4 7.3h-8zM792.1 53.1l4 7.3h-8zM792.8 50.6l4 7.3h-8zM793.5 58.1l4 7.3h-8zM794.2 50.6l4 7.3h-8zM794.9 48.7l4 7.3h-8zM795.6 61.8l4 7.3h-8zM796.3 56.3l4 7.3h-8zM797.0 49.0l4 7.3h-8zM797.8 63.4l4 7.3h-8zM798.5 55.6l4 7.3h-8zM799.2 50.2l4 7.3h-8zM799.9 63.1l4 7.3h-8zM800.6 55.8l4 7.3h-8zM801.3 53.3l4 7.3h-8zM802.0 48.6l4 7.3h-8zM802.7 60.9l4 7.3h-8zM803.5 47.5l4 7.3h-8zM804.2 52.0l4 7.3h-8zM804.9 47.0l4 7.3h-8zM805.6 47.3l4 7.3h-8zM806.3 51.9l4 7.3h-8zM807.0 51.1l4 7.3h-8zM807.7 63.7l4 7.3h-8zM808.5 61.5l4 7.3h-8zM809.2 59.6l4 7.3h-8zM809.9 55.9l4 7.3h-8zM810.6 48.8l4 7.3h-8zM811.3 64.0l4 7.3h-8zM812.0 55.9l4 7.3h-8zM812.7 61.5l4 7.3h-8zM813.4 62.9l4 7.3h-8zM814.2 45.8l4 7.3h-8zM814.9 53.6l4 7.3h-8zM815.6 45.0l4 7.3h-8zM816.3 47.6l4 7.3h-8zM817.0 59.4l4 7.3h-8zM817.7 64.7l4 7.3h-8zM818.4 42.7l4 7.3h-8zM819.1 56.6l4 7.3h-8zM819.9 60.8l4 7.3h-8zM820.6 50.5l4 7.3h-8zM821.3 53.7l4 7.3h-8zM822.0 58.2l4 7.3h-8zM822.7 56.4l4 7.3h-8zM823.4 53.6l4 7.3h-8zM824.1 54.1l4 7.3h-8zM824.8 50.3l4 7.3h-8zM825.6 56.6l4 7.3h-8zM826.3 56.6l4 7.3h-8zM827.0 51.3l4 7.3h-8zM827.7 52.9l4 7.3h-8zM828.4 48.5l4 7.3h-8zM829.1 56.0l4 7.3h-8zM829.8 55.2l4 7.3h-8zM830.6 61.1l4 7.3h-8zM831.3 46.2l4 7.3h-8zM832.0 62.4l4 7.3h-8zM832.7 53.5l4 7.3h-8zM833.4 59.6l4 7.3h-8zM834.1 52.7l4 7.3h-8zM834.8 50.4l4 7.3h-8zM835.5 63.8l4 7.3h-8zM836.3 55.7l4 7.3h-8zM837.0 64.4l4 7.3h-8zM837.7 46.6l4 7.3h-8zM838.4 57.0l4 7.3h-8zM839.1 63.4l4 7.3h-8zM839.8 58.5l4 7.3h-8zM840.5 47.1l4 7.3h-8zM841.2 46.1l4 7.3h-8zM842.0 47.3l4 7.3h-8zM842.7 58.9l4 7.3h-8zM843.4 55.3l4 7.3h-8zM844.1 45.3l4 7.3h-8zM844.8 58.6l4 7.3h-8zM845.5 56.3l4 7.3h-8zM846.2 59.8l4 7.3h-8zM846.9 61.0l4 7.3h-8zM847.7 47.6l4 7.3h-8zM848.4 50.9l4 7.3h-8zM849.1 51.9l4 7.3h-8zM849.8 51.1l4 7.3h-8zM850.5 48.6l4 7.3h-8zM851.2 45.9l4 7.3h-8zM851.9 54.4l4 7.3h-8zM852.6 56.3l4 7.3h-8zM853.4 60.1l4 7.3h-8zM854.1 48.3l4 7.3h-8zM854.8 57.2l4 7.3h-8zM855.5 62.7l4 7.3h-8zM856.2 55.8l4 7.3h-8zM856.9 54.2l4 7.3h-8zM857.6 49.6l4 7.3h-8zM858.4 48.6l4 7.3h-8zM859.1 58.4l4 7.3h-8zM859.8 58.8l4 7.3h-8zM860.5 56.1l4 7.3h-8zM861.2 61.1l4 7.3h-8zM861.9 54.9l4 7.3h-8zM862.6 51.6l4 7.3h-8zM863.3 54.0l4 7.3h-8zM864.1 63.3l4 7.3h-8zM864.8 60.9l4 7.3h-8zM865.5 47.0l4 7.3h-8zM866.2 59.9l4 7.3h-8zM866.9 50.0l4 7.3h-8zM867.6 50.6l4 7.3h-8zM868.3 56.0l4 7.3h-8zM869.0 59.8l4 7.3h-8zM869.8 53.0l4 7.3h-8zM870.5 59.1l4 7.3h-8zM871.2 55.1l4 7.3h-8zM871.9 53.5l4 7.3h-8zM872.6 58.1l4 7.3h-8zM873.3 55.4l4 7.3h-8zM874.0 55.8l4 7.3h-8zM874.7 61.0l4 7.3h-8zM875.5 55.2l4 7.3h-8zM876.2 57.7l4 7.3h-8zM876.9 64.3l4 7.3h-8zM877.6 56.0l4 7.3h-8zM878.3 55.6l4 7.3h-8zM879.0 57.4l4 7.3h-8zM879.7 65.6l4 7.3h-8zM880.5 49.7l4 7.3h-8zM881.2 50.2l4 7.3h-8zM881.9 50.4l4 7.3h-8zM882.6 52.2l4 7.3h-8zM883.3 61.1l4 7.3h-8zM884.0 53.3l4 7.3h-8zM884.7 59.2l4 7.3h-8zM885.4 41.7l4 7.3h-8zM886.2 56.9l4 7.3h-8zM886.9 50.2l4 7.3h-8zM887.6 62.7l4 7.3h-8zM888.3 60.6l4 7.3h-8zM889.0 56.9l4 7.3h-8zM889.7 50.0l4 7.3h-8zM890.4 50.8l4 7.3h-8zM891.1 52.3l4 7.3h-8zM891.9 64.3l4 7.3h-8zM892.6 47.5l4 7.3h-8zM893.3 59.1l4 7.3h-8zM894.0 44.8l4 7.3h-8zM894.7 43.4l4 7.3h-8zM895.4 49.2l4 7.3h-8zM896.1 48.3l4 7.3h-8zM896.8 60.9l4 7.3h-8zM897.6 39.3l4 7.3h-8zM898.3 52.6l4 7.3h-8zM899.0 48.2l4 7.3h-8zM899.7 58.6l4 7.3h-8zM900.4 54.1l4 7.3h-8zM901.1 60.4l4 7.3h-8zM901.8 55.1l4 7.3h-8zM902.6 53.7l4 7.3h-8zM903.3 52.3l4 7.3h-8zM904.0 45.9l4 7.3h-8zM904.7 51.0l4 7.3h-8zM905.4 52.4l4 7.3h-8zM906.1 53.5l4 7.3h-8zM906.8 42.4l4 7.3h-8zM907.5 57.0l4 7.3h-8zM908.3 47.0l4 7.3h-8zM909.0 64.7l4 7.3h-8zM909.7 58.6l4 7.3h-8zM910.4 51.4l4 7.3h-8zM911.1 54.6l4 7.3h-8zM911.8 36.7l4 7.3h-8zM912.5 39.1l4 7.3h-8zM913.2 62.2l4 7.3h-8zM914.0 59.6l4 7.3h-8zM914.7 54.4l4 7.3h-8zM915.4 43.8l4 7.3h-8zM916.1 47.2l4 7.3h-8zM916.8 51.7l4 7.3h-8zM917.5 61.5l4 7.3h-8zM918.2 58.3l4 7.3h-8zM918.9 68.6l4 7.3h-8zM919.7 62.2l4 7.3h-8zM920.4 51.1l4 7.3h-8zM921.1 49.1l4 7.3h-8zM921.8 60.8l4 7.3h-8zM922.5 52.9l4 7.3h-8zM923.2 44.3l4 7.3h-8zM923.9 52.6l4 7.3h-8zM924.7 55.2l4 7.3h-8zM925.4 50.0l4 7.3h-8zM926.1 50.5l4 7.3h-8zM926.8 53.0l4 7.3h-8zM927.5 56.4l4 7.3h-8zM928.2 55.8l4 7.3h-8zM928.9 52.9l4 7.3h-8zM929.6 56.5l4 7.3h-8zM930.4 45.9l4 7.3h-8zM931.1 48.4l4 7.3h-8zM931.8 47.3l4 7.3h-8zM932.5 42.0l4 7.3h-8zM933.2 44.5l4 7.3h-8zM933.9 45.4l4 7.3h-8zM934.6 51.3l4 7.3h-8zM935.3 54.4l4 7.3h-8zM936.1 40.4l4 7.3h-8zM936.8 57.1l4 7.3h-8zM937.5 56.8l4 7.3h-8zM938.2 58.2l4 7.3h-8zM938.9 52.0l4 7.3h-8zM939.6 50.9l4 7.3h-8zM940.3 47.4l4 7.3h-8zM941.0 54.5l4 7.3h-8zM941.8 62.9l4 7.3h-8zM942.5 51.4l4 7.3h-8zM943.2 47.7l4 7.3h-8zM943.9 53.0l4 7.3h-8zM944.6 53.9l4 7.3h-8zM945.3 49.9l4 7.3h-8zM946.0 45.0l4 7.3h-8zM946.7 53.4l4 7.3h-8zM947.5 61.0l4 7.3h-8zM948.2 56.2l4 7.3h-8zM948.9 53.9l4 7.3h-8zM949.6 63.1l4 7.3h-8zM950.3 48.6l4 7.3h-8zM951.0 57.3l4 7.3h-8zM951.7 50.1l4 7.3h-8zM952.5 51.8l4 7.3h-8zM953.2 54.6l4 7.3h-8zM953.9 43.7l4 7.3h-8zM954.6 56.0l4 7.3h-8zM955.3 56.6l4 7.3h-8zM956.0 51.2l4 7.3h-8zM956.7 48.1l4 7.3h-8zM957.4 52.8l4 7.3h-8zM958.2 58.3l4 7.3h-8zM958.9 48.9l4 7.3h-8zM959.6 49.3l4 7.3h-8zM960.3 41.1l4 7.3h-8zM961.0 53.9l4 7.3h-8zM961.7 51.5l4 7.3h-8zM962.4 55.9l4 7.3h-8zM963.1 61.0l4 7.3h-8zM963.9 52.2l4 7.3h-8zM964.6 47.8l4 7.3h-8zM965.3 58.3l4 7.3h-8zM966.0 56.4l4 7.3h-8zM966.7 59.2l4 7.3h-8zM967.4 45.0l4 7.3h-8zM968.1 56.1l4 7.3h-8zM968.8 49.2l4 7.3h-8zM969.6 57.3l4 7.3h-8zM970.3 52.0l4 7.3h-8zM971.0 56.0l4 7.3h-8zM971.7 65.6l4 7.3h-8zM972.4 52.0l4 7.3h-8zM973.1 49.4l4 7.3h-8zM973.8 64.1l4 7.3h-8zM974.6 53.3l4 7.3h-8zM975.3 54.8l4 7.3h-8zM976.0 58.4l4 7.3h-8zM976.7 53.7l4 7.3h-8zM977.4 63.2l4 7.3h-8zM978.1 50.9l4 7.3h-8zM978.8 45.6l4 7.3h-8zM979.5 59.3l4 7.3h-8zM980.3 52.6l4 7.3h-8zM981.0 44.2l4 7.3h-8zM981.7 51.5l4 7.3h-8zM982.4 55.1l4 7.3h-8zM983.1 57.2l4 7.3h-8zM983.8 51.1l4 7.3h-8zM984.5 52.8l4 7.3h-8zM985.2 48.5l4 7.3h-8zM986.0 60.6l4 7.3h-8zM986.7 46.0l4 7.3h-8zM987.4 54.3l4 7.3h-8zM988.1 48.4l4 7.3h-8zM988.8 56.0l4 7.3h-8zM989.5 59.3l4 7.3h-8zM990.2 55.1l4 7.3h-8zM990.9 57.3l4 7.3h-8zM991.7 54.0l4 7.3h-8zM992.4 48.2l4 7.3h-8zM993.1 45.8l4 7.3h-8zM993.8 50.7l4 7.3h-8zM994.5 54.9l4 7.3h-8zM995.2 54.4l4 7.3h-8zM995.9 48.5l4 7.3h-8zM996.7 45.4l4 7.3h-8zM997.4 53.6l4 7.3h-8zM998.1 52.4l4 7.3h-8zM998.8 55.9l4 7.3h-8zM999.5 50.5l4 7.3h-8zM1000.2 46.3l4 7.3h-8zM1000.9 68.0l4 7.3h-8zM1001.6 50.2l4 7.3h-8zM1002.4 54.7l4 7.3h-8zM1003.1 64.7l4 7.3h-8zM1003.8 49.8l4 7.3h-8zM1004.5 52.1l4 7.3h-8zM1005.2 49.5l4 7.3h-8zM1005.9 59.2l4 7.3h-8zM1006.6 39.5l4 7.3h-8zM1007.3 50.9l4 7.3h-8zM1008.1 53.4l4 7.3h-8zM1008.8 42.9l4 7.3h-8zM1009.5 47.8l4 7.3h-8zM1010.2 46.7l4 7.3h-8zM1010.9 44.9l4 7.3h-8zM1011.6 63.0l4 7.3h-8zM1012.3 42.0l4 7.3h-8zM957.9 9.7l4 7.3h-8zM922.5 26.9l4 7.3h-8zM928.3 28.9l4 7.3h-8zM992.4 26.2l4 7.3h-8zM849.6 38.1l4 7.3h-8zM856.9 39.5l4 7.3h-8zM998.9 34.8l4 7.3h-8zM713.9 55.3l4 7.3h-8zM695.8 70.5l4 7.3h-8zM758.2 44.1l4 7.3h-8zM768.1 73.2l4 7.3h-8zM798.4 28.2l4 7.3h-8zM813.1 34.8l4 7.3h-8z" fill="#f00"/>
<rect x="639.5" y="10.3" width="380.20000000000005" height="330.59999999999997" fill="none" stroke="#000" stroke-width="2.9" stroke-linejoin="round"/>
<path d="M639.5 10.3V340.9H1019.7" fill="none" stroke="#000" stroke-width="3.3" stroke-linejoin="round"/>
<line x1="633.9" x2="639.5" y1="340.9" y2="340.9" stroke="#000" stroke-width="3.1" stroke-linecap="round"/>
<text x="629.3" y="345.7" font-size="17" text-anchor="end">10</text>
<line x1="633.9" x2="639.5" y1="274.8" y2="274.8" stroke="#000" stroke-width="3.1" stroke-linecap="round"/>
<text x="629.3" y="279.6" font-size="17" text-anchor="end">20</text>
<line x1="633.9" x2="639.5" y1="208.7" y2="208.7" stroke="#000" stroke-width="3.1" stroke-linecap="round"/>
<text x="629.3" y="213.5" font-size="17" text-anchor="end">30</text>
<line x1="633.9" x2="639.5" y1="142.5" y2="142.5" stroke="#000" stroke-width="3.1" stroke-linecap="round"/>
<text x="629.3" y="147.3" font-size="17" text-anchor="end">40</text>
<line x1="633.9" x2="639.5" y1="76.4" y2="76.4" stroke="#000" stroke-width="3.1" stroke-linecap="round"/>
<text x="629.3" y="81.2" font-size="17" text-anchor="end">50</text>
<line x1="633.9" x2="639.5" y1="10.3" y2="10.3" stroke="#000" stroke-width="3.1" stroke-linecap="round"/>
<text x="629.3" y="15.1" font-size="17" text-anchor="end">60</text>
<line x1="637" x2="639.5" y1="307.8" y2="307.8" stroke="#000" stroke-width="3.1" stroke-linecap="round"/>
<line x1="637" x2="639.5" y1="241.7" y2="241.7" stroke="#000" stroke-width="3.1" stroke-linecap="round"/>
<line x1="637" x2="639.5" y1="175.6" y2="175.6" stroke="#000" stroke-width="3.1" stroke-linecap="round"/>
<line x1="637" x2="639.5" y1="109.5" y2="109.5" stroke="#000" stroke-width="3.1" stroke-linecap="round"/>
<line x1="637" x2="639.5" y1="43.4" y2="43.4" stroke="#000" stroke-width="3.1" stroke-linecap="round"/>
<line x1="639.5" x2="639.5" y1="340.9" y2="347" stroke="#000" stroke-width="3.1" stroke-linecap="round"/>
<text class="b" x="640.3" y="365.6" font-size="16.8" text-anchor="middle" stroke="#000" stroke-width="0.3">0</text>
<line x1="758.3" x2="758.3" y1="340.9" y2="347" stroke="#000" stroke-width="3.1" stroke-linecap="round"/>
<text class="b" x="759.1" y="365.6" font-size="16.8" text-anchor="middle" stroke="#000" stroke-width="0.3">10000</text>
<line x1="877.1" x2="877.1" y1="340.9" y2="347" stroke="#000" stroke-width="3.1" stroke-linecap="round"/>
<text class="b" x="877.9" y="365.6" font-size="16.8" text-anchor="middle" stroke="#000" stroke-width="0.3">20000</text>
<line x1="995.9" x2="995.9" y1="340.9" y2="347" stroke="#000" stroke-width="3.1" stroke-linecap="round"/>
<text class="b" x="995.3" y="365.6" font-size="16.8" text-anchor="middle" stroke="#000" stroke-width="0.3">30000</text>
<line x1="698.9" x2="698.9" y1="340.9" y2="343.9" stroke="#000" stroke-width="3.1" stroke-linecap="round"/>
<line x1="817.7" x2="817.7" y1="340.9" y2="343.9" stroke="#000" stroke-width="3.1" stroke-linecap="round"/>
<line x1="936.5" x2="936.5" y1="340.9" y2="343.9" stroke="#000" stroke-width="3.1" stroke-linecap="round"/>
<text transform="translate(846.3,393.8) scale(1.025,1)" font-size="23.4" text-anchor="middle">Time / s</text>
<text transform="translate(595.5,212.4) rotate(-90)" font-size="24.8">I</text>
<text transform="translate(604,202.6) rotate(-90) scale(1.35,1)" font-size="11.5" letter-spacing="0.5">int</text>
<text transform="translate(595.5,184.5) rotate(-90)" font-size="24.8" letter-spacing="-0.3">(a.u.)</text>
<text class="b" x="569.5" y="20.8" font-size="22">b</text>
<rect x="887" y="264" width="6.3" height="6.3" fill="#000"/>
<path d="M890.4 282.3l4 7.2h-8z" fill="#f00"/>
<text class="s" x="909.5" y="272.6" font-size="13.6" fill="#222">2θ = 19.09</text>
<text x="910.3" y="291.5" font-size="16.6"><tspan>2</tspan><tspan class="s" font-size="13.6">θ = 21.05</tspan></text>
</svg></body></html>
